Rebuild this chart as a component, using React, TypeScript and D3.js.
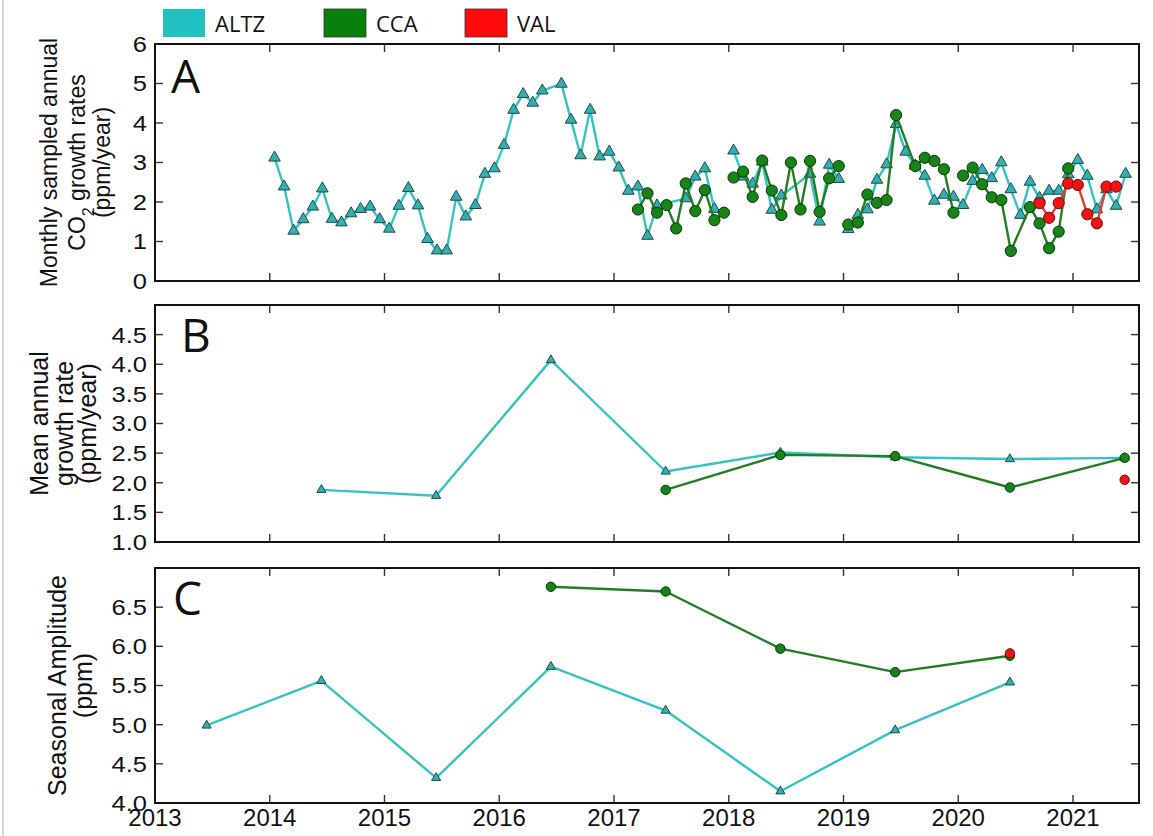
import * as d3 from 'd3'

type Row = [number, number, number]
type Pt = { t: number; v: number }

const YEAR_TICKS = [2013, 2014, 2015, 2016, 2017, 2018, 2019, 2020, 2021]
const A_TICKS = [0, 1, 2, 3, 4, 5, 6]
const B_TICKS = [1.0, 1.5, 2.0, 2.5, 3.0, 3.5, 4.0, 4.5]
const C_TICKS = [4.0, 4.5, 5.0, 5.5, 6.0, 6.5]

// monthly growth rates: [year, month, ppm/yr]
const ALTZ_MONTHLY_2014_2017: Row[] = [
  [2014, 1, 3.12], [2014, 2, 2.39], [2014, 3, 1.27], [2014, 4, 1.56], [2014, 5, 1.88], [2014, 6, 2.34],
  [2014, 7, 1.57], [2014, 8, 1.48], [2014, 9, 1.71], [2014, 10, 1.82], [2014, 11, 1.88], [2014, 12, 1.56],
  [2015, 1, 1.32], [2015, 2, 1.9], [2015, 3, 2.35], [2015, 4, 1.91], [2015, 5, 1.06], [2015, 6, 0.77],
  [2015, 7, 0.77], [2015, 8, 2.13], [2015, 9, 1.63], [2015, 10, 1.92], [2015, 11, 2.71], [2015, 12, 2.85],
  [2016, 1, 3.44], [2016, 2, 4.33], [2016, 3, 4.73], [2016, 4, 4.51], [2016, 5, 4.82], [2016, 7, 4.99],
  [2016, 8, 4.08], [2016, 9, 3.18], [2016, 10, 4.33], [2016, 11, 3.15], [2016, 12, 3.27],
  [2017, 1, 2.87], [2017, 2, 2.28], [2017, 3, 2.39], [2017, 4, 1.14], [2017, 5, 1.91], [2017, 8, 2.09],
  [2017, 9, 2.64], [2017, 10, 2.85], [2017, 11, 1.82],
]
const ALTZ_MONTHLY_2018: Row[] = [
  [2018, 1, 3.3], [2018, 2, 2.64], [2018, 3, 2.46], [2018, 4, 3.02], [2018, 5, 1.8], [2018, 6, 2.16],
  [2018, 9, 2.71], [2018, 10, 1.5], [2018, 11, 2.94], [2018, 12, 2.58],
]
const ALTZ_MONTHLY_2019_2021: Row[] = [
  [2019, 1, 1.31], [2019, 2, 1.67], [2019, 3, 1.81], [2019, 4, 2.56], [2019, 5, 2.95], [2019, 6, 3.97],
  [2019, 7, 3.27], [2019, 8, 2.92], [2019, 9, 2.66], [2019, 10, 2.03], [2019, 11, 2.18], [2019, 12, 2.13],
  [2020, 1, 1.92], [2020, 2, 2.53], [2020, 3, 2.81], [2020, 4, 2.6], [2020, 5, 3.0], [2020, 6, 2.32],
  [2020, 7, 1.67], [2020, 8, 2.51], [2020, 9, 2.1], [2020, 10, 2.28], [2020, 11, 2.28], [2020, 12, 2.7],
  [2021, 1, 3.06], [2021, 2, 2.66], [2021, 3, 1.81], [2021, 4, 2.32], [2021, 5, 1.9], [2021, 6, 2.71],
]
const CCA_MONTHLY_2017: Row[] = [
  [2017, 3, 1.81], [2017, 4, 2.22], [2017, 5, 1.73], [2017, 6, 1.92], [2017, 7, 1.33], [2017, 8, 2.47],
  [2017, 9, 1.77], [2017, 10, 2.3], [2017, 11, 1.54], [2017, 12, 1.73],
]
const CCA_MONTHLY_2018: Row[] = [
  [2018, 1, 2.62], [2018, 2, 2.77], [2018, 3, 2.13], [2018, 4, 3.05], [2018, 5, 2.29], [2018, 6, 1.67],
  [2018, 7, 3.0], [2018, 8, 1.81], [2018, 9, 3.04], [2018, 10, 1.75], [2018, 11, 2.6], [2018, 12, 2.91],
]
const CCA_MONTHLY_2019: Row[] = [
  [2019, 1, 1.43], [2019, 2, 1.48], [2019, 3, 2.19], [2019, 4, 1.98], [2019, 5, 2.05], [2019, 6, 4.2],
  [2019, 8, 2.91], [2019, 9, 3.12], [2019, 10, 3.04], [2019, 11, 2.83], [2019, 12, 1.73],
]
const CCA_MONTHLY_2020: Row[] = [
  [2020, 1, 2.67], [2020, 2, 2.87], [2020, 3, 2.45], [2020, 4, 2.12], [2020, 5, 2.05], [2020, 6, 0.76],
  [2020, 8, 1.87], [2020, 9, 1.46], [2020, 10, 0.83], [2020, 11, 1.25], [2020, 12, 2.85],
]
const VAL_MONTHLY: Row[] = [
  [2020, 9, 1.97], [2020, 10, 1.6], [2020, 11, 1.97], [2020, 12, 2.47],
  [2021, 1, 2.43], [2021, 2, 1.69], [2021, 3, 1.46], [2021, 4, 2.39], [2021, 5, 2.39],
]

// yearly means (ppm/yr)
const MEAN_YEARS_ALTZ = [2014, 2015, 2016, 2017, 2018, 2019, 2020, 2021]
const MEAN_ALTZ = [1.88, 1.78, 4.07, 2.19, 2.51, 2.43, 2.4, 2.42]
const MEAN_YEARS_CCA = [2017, 2018, 2019, 2020, 2021]
const MEAN_CCA = [1.88, 2.47, 2.45, 1.92, 2.42]
const MEAN_YEARS_VAL = [2021]
const MEAN_VAL = [2.05]

// seasonal amplitude (ppm)
const AMP_YEARS_ALTZ = [2013, 2014, 2015, 2016, 2017, 2018, 2019, 2020]
const AMP_ALTZ = [4.99, 5.56, 4.32, 5.74, 5.18, 4.15, 4.93, 5.54]
const AMP_YEARS_CCA = [2016, 2017, 2018, 2019, 2020]
const AMP_CCA = [6.76, 6.7, 5.97, 5.67, 5.88]
const AMP_YEARS_VAL = [2020]
const AMP_VAL = [5.91]

const MID_YEAR = 0.45

const COLORS = {
  ALTZ: { line: '#36c3c3', fill: '#35aeae', stroke: '#1b4d4d', key: '#22c1c1' },
  CCA: { line: '#237d23', fill: '#168516', stroke: '#0b350b', key: '#0b7f0b' },
  VAL: { line: '#e43a36', fill: '#f21414', stroke: '#6b0b0b', key: '#ff0a0a' },
}

const FRAME = { left: 155, right: 1139 }
const PANELS = {
  A: { top: 44, bottom: 281 },
  B: { top: 305, bottom: 542 },
  C: { top: 568, bottom: 803 },
}

const x = d3.scaleLinear().domain([2013, 2021.575]).range([FRAME.left, FRAME.right])

const monthly = (rows: Row[]): Pt[] => rows.map(([yr, m, v]) => ({ t: yr + (m - 0.5) / 12, v }))
const yearly = (years: number[], vals: number[]): Pt[] => years.map((yr, i) => ({ t: yr + MID_YEAR, v: vals[i] }))

type Series = { key: 'ALTZ' | 'CCA' | 'VAL'; segments: Pt[][] }

const TICK_FONT = 'Liberation Sans, Arial, sans-serif'
const LETTER_FONT = 'Open Sans, sans-serif'

function Markers({ pts, kind, y, big }: { pts: Pt[]; kind: Series['key']; y: d3.ScaleLinear<number, number>; big: boolean }) {
  const c = COLORS[kind]
  if (kind === 'ALTZ') {
    const tri = d3.symbol(d3.symbolTriangle, big ? 58 : 36)() ?? ''
    return (
      <g>
        {pts.map((p, i) => (
          <path key={i} d={tri} transform={`translate(${x(p.t)},${y(p.v)})`} fill={c.fill} stroke={c.stroke} strokeWidth={1} />
        ))}
      </g>
    )
  }
  return (
    <g>
      {pts.map((p, i) => (
        <circle key={i} cx={x(p.t)} cy={y(p.v)} r={big ? 5.6 : 4.7} fill={c.fill} stroke={c.stroke} strokeWidth={1} />
      ))}
    </g>
  )
}

function Panel({
  name, ticks, domain, fmt, title, titleX, titleSize, letter, series, big, xLabels,
}: {
  name: 'A' | 'B' | 'C'
  ticks: number[]
  domain: [number, number]
  fmt: (v: number) => string
  title: (string | JSX.Element)[]
  titleX: number[]
  titleSize: number
  letter: [number, number]
  series: Series[]
  big: boolean
  xLabels: boolean
}) {
  const { top, bottom } = PANELS[name]
  const y = d3.scaleLinear().domain(domain).range([bottom, top])
  const line = d3.line<Pt>().x((d) => x(d.t)).y((d) => y(d.v))
  const cy = (top + bottom) / 2
  const TL = 8
  return (
    <g>
      <defs>
        <clipPath id={`clip-${name}`}>
          <rect x={FRAME.left} y={top} width={FRAME.right - FRAME.left} height={bottom - top} />
        </clipPath>
      </defs>
      {title.map((t, i) => (
        <text
          key={i}
          transform={`translate(${titleX[i]},${cy}) rotate(-90)`}
          textAnchor="middle"
          fontFamily={TICK_FONT}
          fontSize={titleSize}
          fill="#111"
        >
          {t}
        </text>
      ))}
      {ticks.map((t) => (
        <g key={t}>
          <line x1={FRAME.left} x2={FRAME.left + TL} y1={y(t)} y2={y(t)} stroke="#333" strokeWidth={1.4} />
          <line x1={FRAME.right} x2={FRAME.right - TL} y1={y(t)} y2={y(t)} stroke="#333" strokeWidth={1.4} />
          <text
            transform={`translate(147,${y(t)}) scale(1.16,1)`}
            dy="0.36em"
            textAnchor="end"
            fontFamily={TICK_FONT}
            fontSize={22}
            fill="#111"
          >
            {fmt(t)}
          </text>
        </g>
      ))}
      {YEAR_TICKS.map((yr) => (
        <g key={yr}>
          <line x1={x(yr)} x2={x(yr)} y1={bottom} y2={bottom - TL} stroke="#333" strokeWidth={1.4} />
          <line x1={x(yr)} x2={x(yr)} y1={top} y2={top + TL} stroke="#333" strokeWidth={1.4} />
          {xLabels && (
            <text x={x(yr)} y={bottom + 23} textAnchor="middle" fontFamily={TICK_FONT} fontSize={24} fill="#111">
              {yr}
            </text>
          )}
        </g>
      ))}
      <g clipPath={`url(#clip-${name})`}>
        {series.map((s) =>
          s.segments.map((seg, i) => (
            <g key={`${s.key}-${i}`}>
              <path d={line(seg) ?? undefined} fill="none" stroke={COLORS[s.key].line} strokeWidth={2.4} strokeLinejoin="round" />
              <Markers pts={seg} kind={s.key} y={y} big={big} />
            </g>
          ))
        )}
      </g>
      <rect x={FRAME.left} y={top} width={FRAME.right - FRAME.left} height={bottom - top} fill="none" stroke="#111" strokeWidth={2} />
      <text x={letter[0]} y={letter[1]} fontFamily={LETTER_FONT} fontSize={46} fill="#111">
        {name}
      </text>
    </g>
  )
}

const LEGEND: { key: Series['key']; px: number; tx: number }[] = [
  { key: 'ALTZ', px: 163, tx: 215 },
  { key: 'CCA', px: 324, tx: 376 },
  { key: 'VAL', px: 465, tx: 517 },
]

export default function App() {
  const seriesA: Series[] = [
    { key: 'ALTZ', segments: [monthly(ALTZ_MONTHLY_2014_2017), monthly(ALTZ_MONTHLY_2018), monthly(ALTZ_MONTHLY_2019_2021)] },
    { key: 'CCA', segments: [monthly(CCA_MONTHLY_2017), monthly(CCA_MONTHLY_2018), monthly(CCA_MONTHLY_2019), monthly(CCA_MONTHLY_2020)] },
    { key: 'VAL', segments: [monthly(VAL_MONTHLY)] },
  ]
  const seriesB: Series[] = [
    { key: 'ALTZ', segments: [yearly(MEAN_YEARS_ALTZ, MEAN_ALTZ)] },
    { key: 'CCA', segments: [yearly(MEAN_YEARS_CCA, MEAN_CCA)] },
    { key: 'VAL', segments: [yearly(MEAN_YEARS_VAL, MEAN_VAL)] },
  ]
  const seriesC: Series[] = [
    { key: 'ALTZ', segments: [yearly(AMP_YEARS_ALTZ, AMP_ALTZ)] },
    { key: 'CCA', segments: [yearly(AMP_YEARS_CCA, AMP_CCA)] },
    { key: 'VAL', segments: [yearly(AMP_YEARS_VAL, AMP_VAL)] },
  ]
  const f1 = (v: number) => v.toFixed(1)
  return (
    <svg width={1153} height={836} style={{ position: 'absolute', left: 0, top: 0, background: '#fff' }}>
      <rect width={1153} height={836} fill="#fff" />
      <line x1={3} x2={3} y1={0} y2={836} stroke="#d4d4d4" strokeWidth={2} />
      {LEGEND.map((l) => (
        <g key={l.key}>
          <rect x={l.px} y={9} width={42} height={28} fill={COLORS[l.key].key} stroke={l.key === 'ALTZ' ? 'none' : '#333'} strokeWidth={0.8} />
          <text x={l.tx} y={32} fontFamily={LETTER_FONT} fontSize={22} fill="#111">
            {l.key}
          </text>
        </g>
      ))}
      <Panel
        name="A"
        ticks={A_TICKS}
        domain={[0, 6]}
        fmt={(v) => String(v)}
        title={[
          'Monthly sampled annual',
          <>
            CO<tspan baselineShift="sub" fontSize={16}>2</tspan> growth rates
          </>,
          '(ppm/year)',
        ]}
        titleX={[57, 85, 110]}
        titleSize={23}
        letter={[171, 93]}
        series={seriesA}
        big
        xLabels={false}
      />
      <Panel
        name="B"
        ticks={B_TICKS}
        domain={[1, 5]}
        fmt={f1}
        title={['Mean annual', 'growth rate', '(ppm/year)']}
        titleX={[48, 73, 96]}
        titleSize={25}
        letter={[181, 352]}
        series={seriesB}
        big={false}
        xLabels={false}
      />
      <Panel
        name="C"
        ticks={C_TICKS}
        domain={[4, 7]}
        fmt={f1}
        title={['Seasonal Amplitude', '(ppm)']}
        titleX={[66, 92]}
        titleSize={25}
        letter={[173, 615]}
        series={seriesC}
        big={false}
        xLabels
      />
    </svg>
  )
}
